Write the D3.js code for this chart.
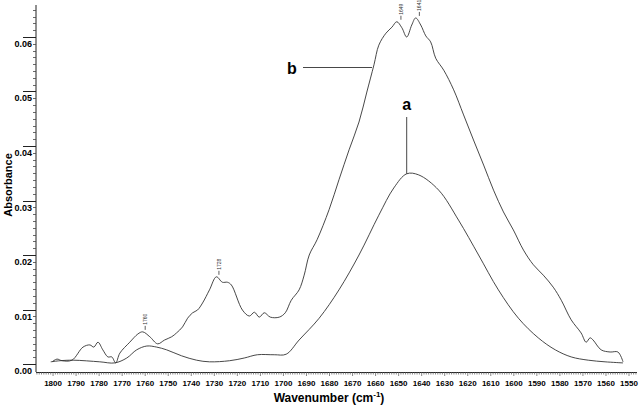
<!DOCTYPE html>
<html>
<head>
<meta charset="utf-8">
<script src="https://cdn.jsdelivr.net/npm/d3@7"></script>
<style>
  body { margin: 0; background: #fff; }
  svg { font-family: "Liberation Sans", Arial, sans-serif; }
  .tick text { font-weight: bold; }
</style>
</head>
<body>
<svg width="639" height="406"></svg>
<script>
// spectrum a (lower, smooth band)
var wnA = [1801, 1797, 1791.3, 1779.7, 1773.2, 1768, 1763.7, 1759.3, 1755, 1750.7, 1744.2, 1737.7,
  1732.1, 1723.4, 1717, 1711.3, 1704, 1698.8, 1693.2, 1684.5, 1675.9, 1667.2, 1658.6, 1652.1,
  1646.5, 1641.3, 1632.6, 1624, 1615.3, 1606.7, 1598, 1589.4, 1582, 1575.1, 1567.7, 1560.4, 1552.6];
var absA = [0.0004, 0.0006, 0.0007, 0.0004, 0.0002, 0.0011, 0.0026, 0.0033, 0.0031, 0.0026, 0.0015, 0.0007,
  0.0004, 0.0006, 0.0011, 0.0017, 0.0017, 0.0018, 0.0044, 0.0084, 0.0136, 0.0200, 0.0273, 0.0323,
  0.0349, 0.0347, 0.0319, 0.0264, 0.0200, 0.0136, 0.0084, 0.0048, 0.0026, 0.0013, 0.0007, 0.0004, 0.0002];

// spectrum b (upper, with peaks)
var wnB = [1800.4, 1798.3, 1796.1, 1791.8, 1787, 1784, 1782.3, 1780.5, 1778.4, 1776.2, 1774.5, 1772.8,
  1771, 1766.7, 1763.2, 1761.1, 1758, 1754.6, 1751.6, 1748.5, 1746.4, 1743.8, 1741.6, 1739.4,
  1737.3, 1735.1, 1732.1, 1729.1, 1726.5, 1724.3, 1722.6, 1717.8, 1714.8, 1712.6, 1710.5, 1708.3,
  1705.7, 1701.8, 1699.2, 1696.6, 1693.2, 1691, 1688.8, 1685.4, 1680.2, 1675.9, 1671.5, 1667.2,
  1663.8, 1660.7, 1658.6, 1655.5, 1652.9, 1650.8, 1648.6, 1646.5, 1644.3, 1642.6, 1640.4, 1638.2,
  1636.1, 1633.9, 1630.4, 1626.1, 1621.8, 1617.5, 1613.1, 1608.8, 1604.5, 1600.2, 1595.8, 1591.5,
  1587.2, 1582.9, 1579.4, 1575.1, 1570.8, 1568.6, 1566.9, 1565.6, 1562.1, 1558.2, 1554.8, 1552.6];
var absB = [0.0004, 0.0009, 0.0006, 0.0007, 0.0031, 0.0035, 0.0031, 0.0040, 0.0026, 0.0013, 0.0013, 0.0002,
  0.0020, 0.0040, 0.0055, 0.0059, 0.0050, 0.0037, 0.0044, 0.0050, 0.0057, 0.0068, 0.0084, 0.0094,
  0.0099, 0.0112, 0.0136, 0.0160, 0.0150, 0.0150, 0.0145, 0.0099, 0.0088, 0.0095, 0.0086, 0.0094,
  0.0086, 0.0086, 0.0094, 0.0117, 0.0136, 0.0163, 0.0200, 0.0228, 0.0283, 0.0338, 0.0393, 0.0444,
  0.0499, 0.0549, 0.0585, 0.0607, 0.0618, 0.0628, 0.0617, 0.0600, 0.0622, 0.0635, 0.0622, 0.0602,
  0.0591, 0.0561, 0.0539, 0.0503, 0.0457, 0.0411, 0.0365, 0.0319, 0.0279, 0.0246, 0.0209, 0.0182,
  0.0163, 0.0141, 0.0117, 0.0081, 0.0057, 0.0040, 0.0048, 0.0044, 0.0026, 0.0022, 0.0022, 0.0004];

// peak labels on b
var peakWn = [1760, 1728, 1649, 1641];
var peakAbs = [0.0059, 0.0160, 0.0628, 0.0635];

var xTicks = d3.range(1800, 1549, -10);
var yTicks = [0, 0.01, 0.02, 0.03, 0.04, 0.05, 0.06];

var svg = d3.select("svg");

var x = d3.scaleLinear().domain([1807.4, 1547.4]).range([36, 635]);
var y = d3.scaleLinear().domain([0, 0.06]).range([364, 37]);
var yTop = 5, xAxisY = 372;

var line = d3.line()
    .x(function(d) { return x(d[0]); })
    .y(function(d) { return y(d[1]); })
    .curve(d3.curveCatmullRom.alpha(0.5));

var dataA = wnA.map(function(w, i) { return [w, absA[i]]; });
var dataB = wnB.map(function(w, i) { return [w, absB[i]]; });

svg.append("path").datum(dataA)
    .attr("d", line).attr("fill", "none").attr("stroke", "#333").attr("stroke-width", 0.9);
svg.append("path").datum(dataB)
    .attr("d", line).attr("fill", "none").attr("stroke", "#333").attr("stroke-width", 0.9);

// y axis
svg.append("line").attr("x1", 36).attr("x2", 36).attr("y1", yTop).attr("y2", xAxisY)
    .attr("stroke", "#222").attr("stroke-width", 1);

var yMinor = d3.range(0, 0.066, 0.00125);
svg.append("g").selectAll("line").data(yMinor).enter().append("line")
    .attr("x1", 33).attr("x2", 36)
    .attr("y1", function(d) { return Math.round(y(d)) + 0.5; })
    .attr("y2", function(d) { return Math.round(y(d)) + 0.5; })
    .attr("stroke", "#444").attr("stroke-width", 0.8);

var yAxis = svg.append("g").attr("class", "tick")
  .selectAll("g").data(yTicks).enter().append("g")
    .attr("transform", function(d) { return "translate(0," + (Math.round(y(d)) + 0.5) + ")"; });
yAxis.append("line").attr("x1", 23).attr("x2", 36).attr("stroke", "#222").attr("stroke-width", 1);
yAxis.append("text")
    .attr("x", 32).attr("y", 9)
    .attr("text-anchor", "end")
    .attr("font-size", 9)
    .text(function(d) { return d.toFixed(2); });

// x axis
svg.append("line").attr("x1", 36).attr("x2", 637).attr("y1", xAxisY + 0.5).attr("y2", xAxisY + 0.5)
    .attr("stroke", "#222").attr("stroke-width", 1);

var xMinor = d3.range(1807, 1546, -1);
svg.append("g").selectAll("line").data(xMinor).enter().append("line")
    .attr("x1", function(d) { return x(d); }).attr("x2", function(d) { return x(d); })
    .attr("y1", xAxisY).attr("y2", function(d) { return d % 10 === 0 ? xAxisY + 4 : xAxisY + 2.5; })
    .attr("stroke", "#555").attr("stroke-width", 0.7);

svg.append("g").attr("class", "tick").selectAll("text").data(xTicks).enter().append("text")
    .attr("x", function(d) { return x(d); })
    .attr("y", 386)
    .attr("text-anchor", "middle")
    .attr("font-size", 8)
    .text(function(d) { return d; });

// axis titles
svg.append("text")
    .attr("transform", "translate(12,185) rotate(-90)")
    .attr("text-anchor", "middle")
    .attr("font-size", 11).attr("font-weight", "bold")
    .text("Absorbance");

var xt = svg.append("text")
    .attr("x", 329).attr("y", 402)
    .attr("text-anchor", "middle")
    .attr("font-size", 12).attr("font-weight", "bold");
xt.append("tspan").text("Wavenumber (cm");
xt.append("tspan").attr("font-size", 8).attr("dy", -5).text("-1");
xt.append("tspan").attr("dy", 5).text(")");

// peak markers
var pk = svg.append("g").selectAll("g").data(peakWn).enter().append("g")
    .attr("transform", function(d, i) { return "translate(" + x(d) + "," + (y(peakAbs[i]) - 2) + ")"; });
pk.append("line").attr("y1", 0).attr("y2", -4).attr("stroke", "#333").attr("stroke-width", 0.8);
pk.append("text")
    .attr("transform", "translate(2,-5) rotate(-90)")
    .attr("font-size", 5)
    .attr("fill", "#333")
    .text(function(d) { return d; });

// curve labels
var aPeak = x(1646.5);
svg.append("line").attr("x1", aPeak).attr("x2", aPeak).attr("y1", 117).attr("y2", y(0.0349))
    .attr("stroke", "#333").attr("stroke-width", 0.9);
svg.append("text").attr("x", aPeak).attr("y", 110).attr("text-anchor", "middle")
    .attr("font-size", 16).attr("font-weight", "bold").text("a");

svg.append("line").attr("x1", 303).attr("x2", 372).attr("y1", 67.5).attr("y2", 67.5)
    .attr("stroke", "#333").attr("stroke-width", 0.9);
svg.append("text").attr("x", 292).attr("y", 74).attr("text-anchor", "middle")
    .attr("font-size", 16).attr("font-weight", "bold").text("b");
</script>
</body>
</html>
